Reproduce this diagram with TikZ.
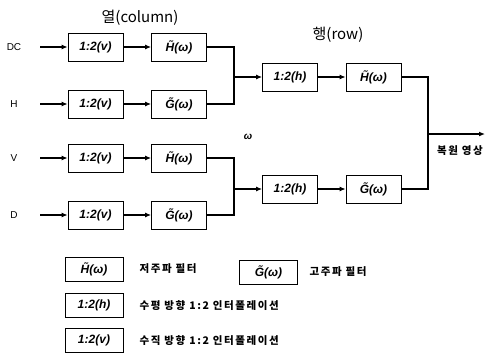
\documentclass[tikz,border=0pt]{standalone}
\usepackage{fontspec}
\setmainfont{Liberation Sans}
\newfontfamily\kr[LetterSpace=15]{Noto Sans CJK KR}
\newfontfamily\krt{Noto Sans CJK KR}
\usetikzlibrary{arrows.meta}

% 필터 표기
\newcommand{\filt}[1]{#1̃(ω)}

\begin{document}
\begin{tikzpicture}[x=1pt,y=-1pt,
    blk/.style={draw,line width=0.7pt,minimum width=55pt,minimum height=28pt,
        inner sep=0pt,font=\bfseries\itshape\fontsize{12}{12}\selectfont},
    lgd/.style={blk,minimum width=58pt,minimum height=24pt},
    wire/.style={line width=1.2pt},
    arr/.style={wire,-{Latex[length=6pt,width=5pt]}},
    lbl/.style={font=\fontsize{10}{10}\selectfont},
    ktxt/.style={font=\kr\bfseries\fontsize{10.5}{10.5}\selectfont},
    ttl/.style={font=\krt\fontsize{15}{15}\selectfont}]
    \useasboundingbox (0,0) rectangle (487,356);

    % 제목
    \node[ttl] (tcol) at (140,18) {열(column)};
    \node[ttl] (trow) at (338,35) {행(row)};

    % 열 방향: 입력 네 개
    \foreach \n/\lab/\y/\flt in {1/DC/47/H, 2/H/104/G, 3/V/158/H, 4/D/215/G}
    {
        \node[lbl] (in\n) at (14,\y) {\lab};
        \coordinate (s\n) at (40,\y);
        \node[blk] (v\n) at (95.5,\y) {1:2(v)};
        \node[blk] (c\n) at (179,\y) {\filt{\flt}};
        \draw[arr] (s\n) -- (v\n);
        \draw[arr] (v\n) -- (c\n);
    }

    % 행 방향
    \coordinate (m1) at (234,77);
    \coordinate (m2) at (234,189);
    \node[blk] (h1) at (290,77) {1:2(h)};
    \node[blk] (r1) at (373.5,77) {\filt{H}};
    \node[blk] (h2) at (290,189) {1:2(h)};
    \node[blk] (r2) at (373.5,189) {\filt{G}};
    \draw[wire] (c1.east) -| (m1) |- (c2.east);
    \draw[wire] (c3.east) -| (m2) |- (c4.east);
    \draw[arr] (m1) -- (h1);
    \draw[arr] (h1) -- (r1);
    \draw[arr] (m2) -- (h2);
    \draw[arr] (h2) -- (r2);
    \node[font=\bfseries\itshape\fontsize{10}{10}\selectfont] (w) at (248,137) {ω};

    % 출력
    \coordinate (o) at (428,134);
    \coordinate (e) at (485,134);
    \draw[wire] (r1.east) -| (o) |- (r2.east);
    \draw[arr] (o) -- (e);
    \node[ktxt] (out) at (460,151) {복원 영상};

    % 범례
    \node[lgd] (lH) at (94,269) {\filt{H}};
    \node[ktxt,anchor=west] (tH) at (136,269) {저주파 필터};
    \node[lgd] (lG) at (268.5,272) {\filt{G}};
    \node[ktxt,anchor=west] (tG) at (306,272) {고주파 필터};
    \node[lgd] (lh) at (94,305) {1:2(h)};
    \node[ktxt,anchor=west] (th) at (136,306) {수평 방향 1:2 인터폴레이션};
    \node[lgd] (lv) at (94,340) {1:2(v)};
    \node[ktxt,anchor=west] (tv) at (136,341) {수직 방향 1:2 인터폴레이션};
\end{tikzpicture}
\end{document}
